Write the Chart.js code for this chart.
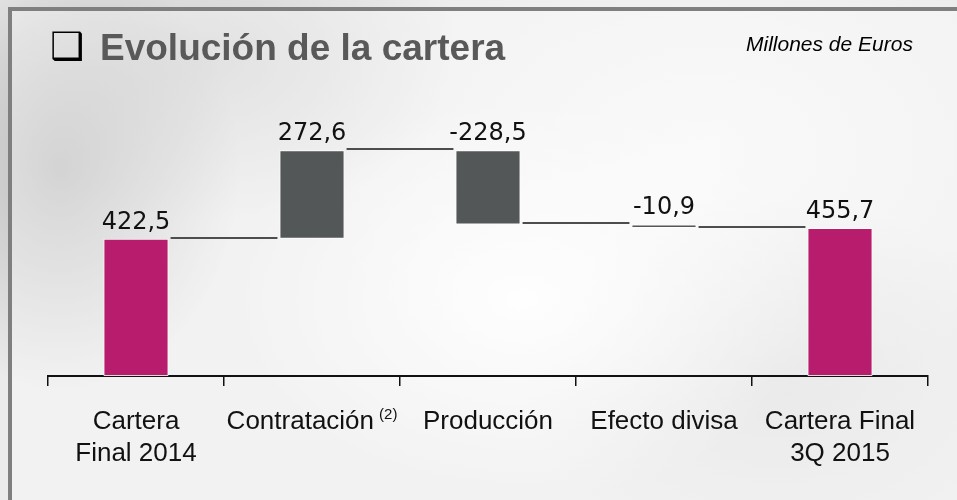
<!DOCTYPE html>
<html>
<head>
<meta charset="utf-8">
<script src="https://cdn.jsdelivr.net/npm/chart.js@4.4.1/dist/chart.umd.min.js"></script>
<style>
  html, body { margin: 0; padding: 0; }
  body {
    width: 957px; height: 500px; overflow: hidden; position: relative;
    background:
      radial-gradient(ellipse 180px 220px at 60px 170px, rgba(160,160,160,0.6), rgba(160,160,160,0) 100%),
      radial-gradient(ellipse 260px 160px at 200px 60px, rgba(185,185,185,0.5), rgba(185,185,185,0) 100%),
      radial-gradient(ellipse 300px 200px at 520px 300px, rgba(255,255,255,0.9), rgba(255,255,255,0) 100%),
      radial-gradient(ellipse 260px 180px at 780px 380px, rgba(210,210,210,0.5), rgba(210,210,210,0) 100%),
      radial-gradient(ellipse 400px 260px at 700px 150px, rgba(250,250,250,0.8), rgba(250,250,250,0) 100%),
      #ebebeb;
  }
  #frame {
    position: absolute; left: 8px; top: 7px; width: 1000px; height: 600px;
    border-left: 4px solid #7f7f7f; border-top: 4px solid #7f7f7f;
    background: rgba(255,255,255,0.35);
  }
  canvas { position: absolute; left: 0; top: 0; }
</style>
</head>
<body>
<div id="frame"></div>
<canvas id="c" width="957" height="500"></canvas>
<script>
// ---- data ----
const categories = [["Cartera", "Final 2014"], ["Contratación"], ["Producción"], ["Efecto divisa"], ["Cartera Final", "3Q 2015"]];
const footnotes = ["", "(2)", "", "", ""];
const changes = [422.5, 272.6, -228.5, -10.9, 455.7];
const isTotal = [true, false, false, false, true];
const valueLabels = ["422,5", "272,6", "-228,5", "-10,9", "455,7"];
const titleText = "Evolución de la cartera";
const unitText = "Millones de Euros";

// build floating ranges
const ranges = [];
let running = 0;
for (let i = 0; i < changes.length; i++) {
  if (isTotal[i]) { ranges.push([0, changes[i]]); running = changes[i]; }
  else { ranges.push([running, running + changes[i]]); running += changes[i]; }
}
const colors = isTotal.map(t => t ? '#b81c6d' : '#535757');

const overlay = {
  id: 'overlay',
  afterDatasetsDraw(chart) {
    const ctx = chart.ctx;
    const meta = chart.getDatasetMeta(0);
    const y = chart.scales.y;
    ctx.save();
    // connectors
    ctx.strokeStyle = '#4d4d4d';
    ctx.lineWidth = 2;
    for (let i = 0; i < ranges.length - 1; i++) {
      const b = meta.data[i], n = meta.data[i + 1];
      const level = ranges[i][1];
      const py = Math.round(y.getPixelForValue(level)) - 1;
      ctx.beginPath();
      ctx.moveTo(b.x + b.width / 2 + 2, py);
      ctx.lineTo(n.x - n.width / 2 - 2, py);
      ctx.stroke();
    }
    // value labels
    ctx.fillStyle = '#111';
    ctx.font = '24px "DejaVu Sans"';
    ctx.textAlign = 'center';
    ctx.textBaseline = 'alphabetic';
    for (let i = 0; i < ranges.length; i++) {
      const b = meta.data[i];
      const top = y.getPixelForValue(Math.max(ranges[i][0], ranges[i][1]));
      ctx.fillText(valueLabels[i], b.x, top - 10);
    }
    ctx.restore();
  },
  afterDraw(chart) {
    const ctx = chart.ctx;
    const x = chart.scales.x;
    ctx.save();
    // x labels
    ctx.fillStyle = '#111';
    ctx.textBaseline = 'alphabetic';
    ctx.textAlign = 'left';
    for (let i = 0; i < categories.length; i++) {
      const cx = x.getPixelForTick(i);
      categories[i].forEach((line, j) => {
        ctx.font = '26px "Liberation Sans"';
        const w = ctx.measureText(line).width;
        let total = w, sw = 0;
        const fn = (j === categories[i].length - 1) ? footnotes[i] : "";
        if (fn) {
          ctx.font = '15px "Liberation Sans"';
          sw = ctx.measureText(fn).width;
          total += 5 + sw;
        }
        const sx = cx - total / 2;
        const by = 429 + j * 32;
        ctx.font = '26px "Liberation Sans"';
        ctx.fillText(line, sx, by);
        if (fn) {
          ctx.font = '15px "Liberation Sans"';
          ctx.fillText(fn, sx + w + 5, by - 10);
        }
      });
    }
    // title
    ctx.fillStyle = '#000';
    ctx.font = '38px "DejaVu Sans"';
    ctx.fillText('\u2751', 50, 59);
    ctx.fillStyle = '#595959';
    ctx.font = 'bold 37px "Liberation Sans"';
    ctx.fillText(titleText, 100, 60);
    ctx.fillStyle = '#000';
    ctx.font = 'italic 21px "Liberation Sans"';
    ctx.fillText(unitText, 746, 51);
    ctx.restore();
  }
};

new Chart(document.getElementById('c'), {
  type: 'bar',
  data: {
    labels: categories.map(c => c.join(' ')),
    datasets: [{
      data: ranges,
      backgroundColor: colors,
      borderColor: 'rgba(255,255,255,0.85)',
      borderWidth: 1,
      borderSkipped: false,
      categoryPercentage: 1,
      barPercentage: 0.37
    }]
  },
  options: {
    responsive: false,
    animation: false,
    devicePixelRatio: 1,
    layout: { padding: { left: 48, right: 29, top: 100, bottom: 114 } },
    plugins: { legend: { display: false }, tooltip: { enabled: false }, title: { display: false } },
    scales: {
      x: {
        grid: { display: true, drawOnChartArea: false, drawTicks: true, tickLength: 10, color: '#111', lineWidth: 1.5, offset: true },
        border: { display: true, color: '#111', width: 2 },
        ticks: { display: false }
      },
      y: { display: false, min: 0, max: 850 }
    }
  },
  plugins: [overlay]
});
</script>
</body>
</html>
